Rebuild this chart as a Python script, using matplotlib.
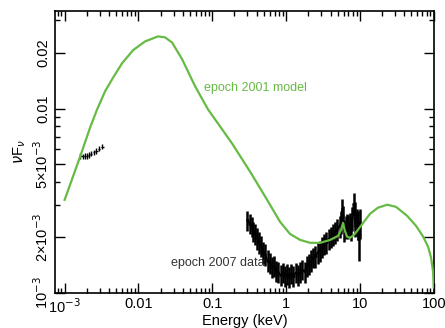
import numpy as np
import matplotlib.pyplot as plt
from matplotlib.ticker import FixedLocator, NullFormatter, LogLocator

plt.rcParams['font.family'] = ['Liberation Sans', 'DejaVu Sans']

# epoch 2001 model (keV, nuFnu)
model_e = [1.0e-3, 1.62e-3, 2.21e-3, 2.75e-3, 3.53e-3, 4.53e-3, 6.0e-3, 8.45e-3,
           0.0123, 0.0184, 0.0229, 0.0285, 0.039, 0.0585, 0.0877, 0.128, 0.186,
           0.325, 0.553, 0.829, 1.13, 1.55, 2.12, 2.89, 3.95, 5.07, 5.56, 5.92,
           6.2, 6.7, 7.37, 8.35, 9.17, 11.05, 13.75, 17.6, 23.4, 30.9, 43.6,
           57.7, 71.9, 84.0, 92.2, 98.1, 100.0]
model_f = [3.20e-3, 5.48e-3, 7.88e-3, 9.88e-3, 0.0124, 0.0147, 0.0176, 0.0207,
           0.0231, 0.0246, 0.0243, 0.0228, 0.0185, 0.0132, 9.88e-3, 7.98e-3,
           6.45e-3, 4.55e-3, 3.20e-3, 2.43e-3, 2.09e-3, 1.94e-3, 1.87e-3,
           1.87e-3, 1.94e-3, 2.04e-3, 2.20e-3, 2.40e-3, 2.20e-3, 2.02e-3,
           1.99e-3, 2.07e-3, 2.17e-3, 2.40e-3, 2.69e-3, 2.90e-3, 3.01e-3,
           2.93e-3, 2.62e-3, 2.31e-3, 2.02e-3, 1.78e-3, 1.55e-3, 1.30e-3, 1.07e-3]

# epoch 2007 optical/UV points
uv_e = [1.62e-3, 1.75e-3, 1.88e-3, 2.0e-3, 2.15e-3, 2.3e-3, 2.5e-3, 2.7e-3, 2.95e-3, 3.25e-3]
uv_f = [5.55e-3, 5.50e-3, 5.52e-3, 5.55e-3, 5.6e-3, 5.7e-3, 5.78e-3, 5.9e-3, 6.05e-3, 6.2e-3]
uv_ferr = [0.2e-3] * 10

# epoch 2007 X-ray spectrum (flux in units of 1e-3)
xr_e = [0.30, 0.32, 0.34, 0.36, 0.38, 0.40, 0.43, 0.46, 0.49, 0.52, 0.56, 0.60,
        0.64, 0.68, 0.73, 0.78, 0.84, 0.90, 0.96, 1.03, 1.10, 1.18, 1.26, 1.35,
        1.45, 1.55, 1.66, 1.78, 1.90, 2.04, 2.18, 2.34, 2.50, 2.68, 2.87, 3.07,
        3.29, 3.52, 3.77, 4.03, 4.32, 4.62, 4.95, 5.30, 5.55, 5.75, 5.95, 6.15,
        6.40, 6.70, 7.00, 7.30, 7.60, 7.90, 8.20, 8.45, 8.70, 9.00, 9.30, 9.60, 9.90]
xr_f = [2.48, 2.38, 2.30, 2.16, 2.10, 1.98, 1.88, 1.80, 1.66, 1.62, 1.50, 1.46,
        1.38, 1.40, 1.32, 1.30, 1.25, 1.29, 1.24, 1.27, 1.22, 1.28, 1.24, 1.29,
        1.25, 1.30, 1.34, 1.31, 1.40, 1.44, 1.50, 1.56, 1.58, 1.66, 1.70, 1.78,
        1.84, 1.88, 1.96, 2.02, 2.08, 2.14, 2.22, 2.30, 2.45, 2.85, 2.60, 2.20,
        2.28, 2.35, 2.30, 2.38, 2.25, 2.55, 3.05, 2.70, 2.40, 2.45, 2.35, 1.95, 2.40]
xr_ferr = [0.30, 0.30, 0.29, 0.28, 0.27, 0.26, 0.25, 0.24, 0.22, 0.22, 0.20, 0.19,
           0.18, 0.18, 0.17, 0.17, 0.16, 0.16, 0.16, 0.16, 0.16, 0.16, 0.16, 0.16,
           0.16, 0.17, 0.17, 0.17, 0.18, 0.19, 0.20, 0.20, 0.21, 0.22, 0.22, 0.23,
           0.24, 0.25, 0.26, 0.27, 0.28, 0.29, 0.30, 0.32, 0.35, 0.40, 0.35, 0.30,
           0.32, 0.34, 0.34, 0.34, 0.34, 0.38, 0.45, 0.42, 0.38, 0.42, 0.42, 0.45, 0.45]

green = '#66bb44'

fig = plt.figure(figsize=(4.45, 3.28), dpi=100)
ax = fig.add_axes([0.1236, 0.1067, 0.8514, 0.8593])

ax.plot(model_e, model_f, color=green, lw=1.6, zorder=3,
        solid_joinstyle='round')

uv_e = np.array(uv_e)
ax.errorbar(uv_e, uv_f, yerr=uv_ferr, xerr=uv_e * 0.035, fmt='none',
            ecolor='black', elinewidth=1.0, zorder=2)

xr_e = np.array(xr_e)
xr_f = np.array(xr_f) * 1e-3
xr_ferr = np.array(xr_ferr) * 1e-3
ax.errorbar(xr_e, xr_f, yerr=xr_ferr, xerr=xr_e * 0.035, fmt='-', color='black',
            lw=1.2, ecolor='black', elinewidth=1.8, zorder=2)

ax.set_xscale('log')
ax.set_yscale('log')
ax.set_xlim(7.4e-4, 100.5)
ax.set_ylim(1e-3, 0.0337)

ax.xaxis.set_major_locator(FixedLocator([1e-3, 1e-2, 0.1, 1, 10, 100]))
ax.set_xticklabels(['10$^{-3}$', '0.01', '0.1', '1', '10', '100'])
ax.xaxis.set_minor_locator(LogLocator(base=10, subs=np.arange(2, 10)))
ax.xaxis.set_minor_formatter(NullFormatter())

ax.yaxis.set_major_locator(FixedLocator([1e-3, 2e-3, 5e-3, 0.01, 0.02]))
ax.set_yticklabels(['10$^{-3}$', '2×10$^{-3}$', '5×10$^{-3}$', '0.01', '0.02'],
                   rotation=90, va='center')
ax.yaxis.set_minor_locator(LogLocator(base=10, subs=np.arange(2, 10)))
ax.yaxis.set_minor_formatter(NullFormatter())

ax.tick_params(which='both', direction='in', top=True, right=True,
               labelsize=10.5, width=1.0, color='black')
ax.tick_params(axis='x', pad=3)
ax.tick_params(axis='y', pad=3)
ax.tick_params(which='major', length=7)
ax.tick_params(which='minor', length=3.5)
for s in ax.spines.values():
    s.set_linewidth(1.2)

ax.set_xlabel('Energy (keV)', fontsize=10.5, labelpad=-1)
ax.set_ylabel(r'$\nu$F$_\nu$', fontsize=10.5, labelpad=3)

ax.text(0.393, 0.727, 'epoch 2001 model', transform=ax.transAxes, color=green,
        fontsize=9, va='center', ha='left')
ax.text(0.306, 0.106, 'epoch 2007 data', transform=ax.transAxes, color='#333333',
        fontsize=9, va='center', ha='left')

fig.savefig('out.png', dpi=100)
